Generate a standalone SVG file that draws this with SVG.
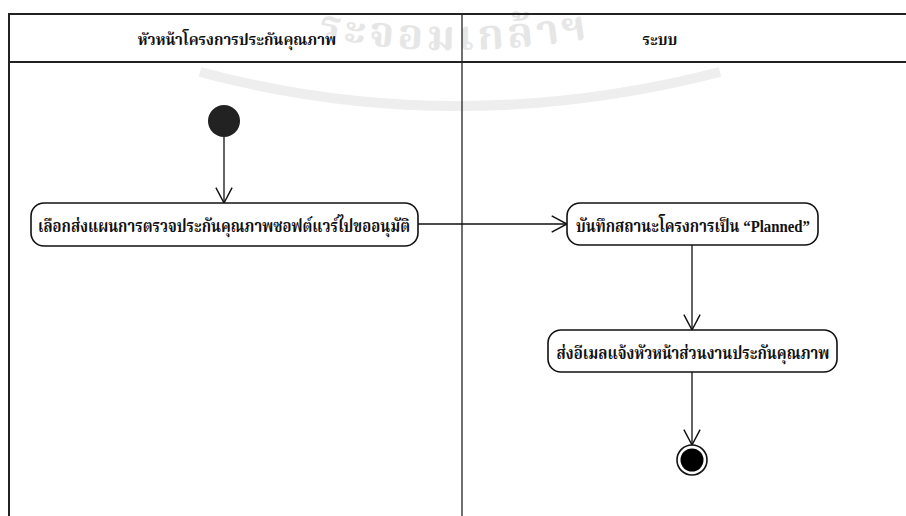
<svg xmlns="http://www.w3.org/2000/svg" width="906" height="516" viewBox="0 0 906 516">
  <defs>
    <style>
      .lane { stroke: #222; stroke-width: 2; fill: none; }
      .div { stroke: #222; stroke-width: 1.3; fill: none; }
      .node { fill: #fff; stroke: #111; stroke-width: 1.6; }
      .lbl { font-family: "Liberation Serif", "Noto Serif Thai", "Noto Sans Thai", serif; font-weight: bold; fill: #111; text-anchor: middle; }
      .edge { stroke: #111; stroke-width: 1.3; fill: none; marker-end: url(#open); }
      .wm { font-family: "Liberation Serif", "Noto Serif Thai", "Noto Sans Thai", serif; font-weight: bold; fill: #e6e6e6; }
    </style>
    <marker id="open" viewBox="0 0 20 20" refX="18" refY="10" markerWidth="18" markerHeight="18" markerUnits="userSpaceOnUse" orient="auto">
      <path d="M1,1 L18,10 L1,19" fill="none" stroke="#111" stroke-width="1.6"/>
    </marker>
    <path id="wmarc" d="M230,18 Q455,82 680,18"/>
  </defs>
  <rect width="906" height="516" fill="#fff"/>

  <g id="watermark">
    <path d="M200,72 Q455,140 720,72" stroke="#eeeeee" stroke-width="10" fill="none"/>
    <text class="wm" font-size="42" letter-spacing="4"><textPath href="#wmarc" startOffset="50%" text-anchor="middle">ระจอมเกล้าฯ</textPath></text>
  </g>

  <g id="swimlanes">
    <line class="lane" x1="8" y1="14" x2="906" y2="14"/>
    <line class="lane" x1="8" y1="62" x2="906" y2="62"/>
    <line class="lane" x1="9" y1="13" x2="9" y2="516"/>
    <line class="div" x1="462" y1="14" x2="462" y2="516"/>
    <text class="lbl" x="237" y="45" font-size="15">หัวหน้าโครงการประกันคุณภาพ</text>
    <text class="lbl" x="660" y="45" font-size="15">ระบบ</text>
  </g>

  <g id="connectors">
    <line class="edge" x1="224" y1="137" x2="224" y2="203"/>
    <line class="edge" x1="418" y1="224" x2="567" y2="224"/>
    <line class="edge" x1="692" y1="245" x2="692" y2="330"/>
    <line class="edge" x1="692" y1="372" x2="692" y2="445"/>
  </g>

  <g id="start">
    <circle cx="224" cy="121" r="16" fill="#222"/>
  </g>

  <g id="action1">
    <rect class="node" x="31" y="203" width="387" height="43" rx="13"/>
    <text class="lbl" x="224" y="232" font-size="17" textLength="372" lengthAdjust="spacingAndGlyphs">เลือกส่งแผนการตรวจประกันคุณภาพซอฟต์แวร์ไปขออนุมัติ</text>
  </g>

  <g id="action2">
    <rect class="node" x="567" y="203" width="251" height="42" rx="13"/>
    <text class="lbl" x="693" y="232" font-size="17" textLength="234" lengthAdjust="spacingAndGlyphs">บันทึกสถานะโครงการเป็น “Planned”</text>
  </g>

  <g id="action3">
    <rect class="node" x="548" y="330" width="289" height="42" rx="13"/>
    <text class="lbl" x="693" y="359" font-size="17" textLength="273" lengthAdjust="spacingAndGlyphs">ส่งอีเมลแจ้งหัวหน้าส่วนงานประกันคุณภาพ</text>
  </g>

  <g id="end">
    <circle cx="692" cy="460" r="15" fill="#fff" stroke="#111" stroke-width="1.6"/>
    <circle cx="692" cy="460" r="11.5" fill="#000"/>
  </g>
</svg>
